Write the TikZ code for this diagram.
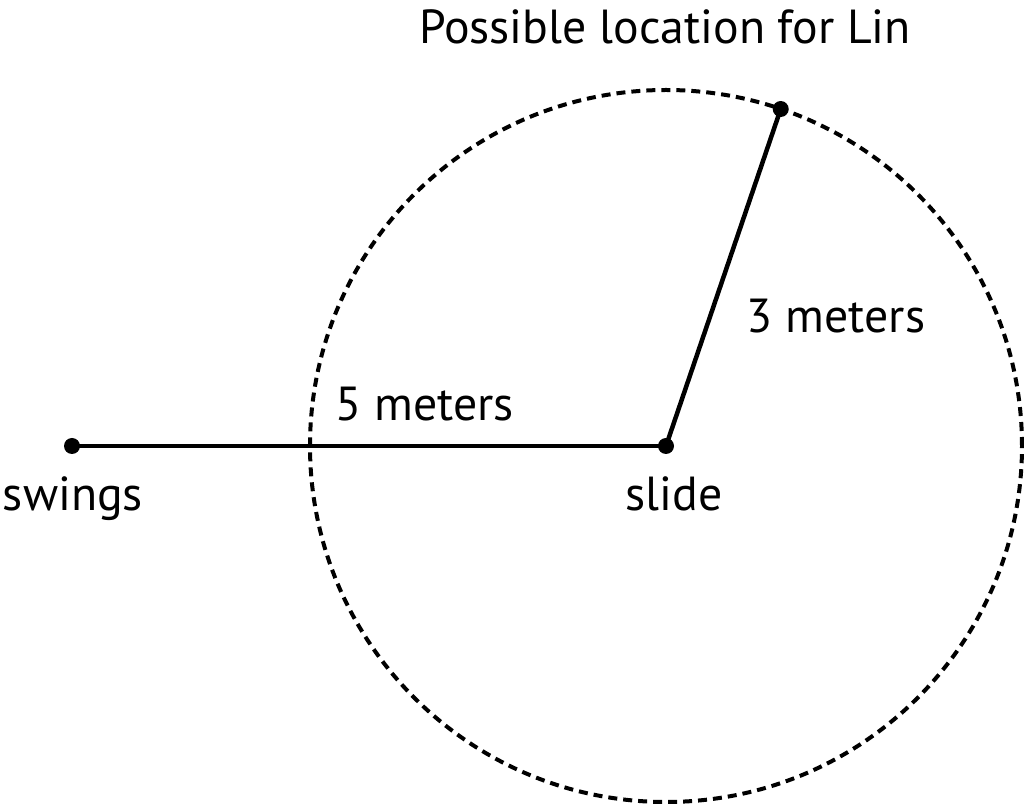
\documentclass[tikz,border=0pt]{standalone}
\usepackage{fontspec}
\setmainfont{PT Sans}
\usetikzlibrary{positioning}
\tikzset{
	spot/.style={circle, fill=black, inner sep=0pt, minimum size=0.16cm},
	lbl/.style={anchor=base, inner sep=0pt, font=\fontsize{13.6}{16}\selectfont},
}
\begin{document}
\begin{tikzpicture}
\useasboundingbox (0,0) rectangle (10.24,8.05);

\node[spot] (slide) at (6.66,3.59) {};
\node[spot] (swings) at (0.72,3.59) {};
\draw[black, line width=0.04cm, dash pattern=on 0.09cm off 0.06cm] (slide) circle (3.56);
\node[spot] (lin) at ([shift={(71.2:3.56)}]slide.center) {};

\draw[black, line width=0.045cm] (swings.center) -- (slide.center);
\draw[black, line width=0.045cm] (slide.center) -- (lin.center);

\node at (6.65,7.61)[lbl] (linlabel) {Possible location for Lin};
\node at (8.36,4.72)[lbl] (threem) {3 meters};
\node at (4.245,3.84)[lbl] (fivem) {5 meters};
\node at (0.73,2.94)[lbl] (swingslabel) {swings};
\node at (6.74,2.94)[lbl] (slidelabel) {slide};
\end{tikzpicture}
\end{document}
